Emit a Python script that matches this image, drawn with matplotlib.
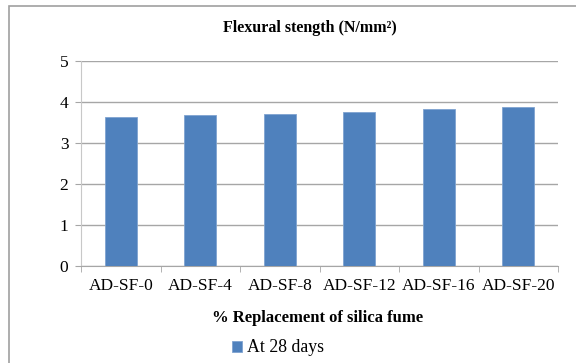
import matplotlib.pyplot as plt
import matplotlib.patches as mpatches
import numpy as np

plt.rcParams['font.family'] = ['Liberation Serif', 'DejaVu Serif']

categories = ['AD-SF-0', 'AD-SF-4', 'AD-SF-8', 'AD-SF-12', 'AD-SF-16', 'AD-SF-20']
strength_28d = [3.64, 3.68, 3.71, 3.75, 3.82, 3.88]
yticks = [0, 1, 2, 3, 4, 5]

bar_color = '#4F81BD'
grid_color = '#A6A6A6'

fig = plt.figure(figsize=(5.76, 3.63), dpi=100)
# outer chart border
fig.patches.append(mpatches.Rectangle((9 / 576, -0.1), 1.2, (363 - 6) / 363 + 0.1,
                                      transform=fig.transFigure, fill=False,
                                      edgecolor='#A0A0A0', linewidth=1.2))

ax = fig.add_axes((81 / 576, (363 - 266) / 363, 477 / 576, 205 / 363))
x = np.arange(len(categories))
ax.bar(x, strength_28d, width=0.4, color=bar_color, edgecolor='#7FA3D0',
       linewidth=0.6, zorder=3, label='At 28 days')

ax.set_xlim(-0.5, len(categories) - 0.5)
ax.set_ylim(0, 5)
ax.set_yticks(yticks)
ax.yaxis.grid(True, color=grid_color, linewidth=1.0)
ax.set_axisbelow(True)

ax.set_xticks(x)
ax.set_xticklabels(categories, fontsize=12.5)
ax.set_xticks(np.arange(len(categories) + 1) - 0.5, minor=True)
ax.tick_params(axis='x', which='major', length=0, pad=9)
ax.tick_params(axis='x', which='minor', length=4, color=grid_color)
ax.tick_params(axis='y', length=4, color=grid_color, labelsize=12.5, pad=5)

for side in ['top', 'right']:
    ax.spines[side].set_visible(False)
ax.spines['left'].set_color('#C8C8C8')
ax.spines['bottom'].set_color(grid_color)

fig.text(310 / 576, 1 - 28 / 363, 'Flexural stength (N/mm²)', ha='center', va='center',
         fontsize=11.5, fontweight='bold')
fig.text(318 / 576, 1 - 318 / 363, '% Replacement of silica fume', ha='center', va='center',
         fontsize=12, fontweight='bold')

fig.legend(loc='center', bbox_to_anchor=(278 / 576, 1 - 348 / 363), frameon=False,
           fontsize=12.8, handlelength=0.55, handleheight=0.55, handletextpad=0.3)

fig.savefig('out.png', dpi=100)
